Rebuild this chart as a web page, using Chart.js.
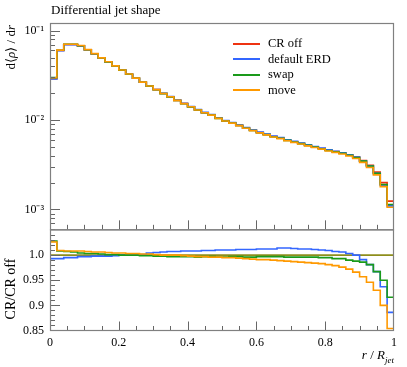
<!DOCTYPE html>
<html>
<head>
<meta charset="utf-8">
<script src="https://cdn.jsdelivr.net/npm/chart.js@4.4.1/dist/chart.umd.min.js"></script>
<style>
  html, body { margin: 0; padding: 0; background: #fff; }
  #wrap { position: relative; width: 407px; height: 367px; font-family: 'Liberation Serif', serif; color: #000; }
  #plot { position: absolute; left: 0; top: 0; }
  .lbl { position: absolute; white-space: nowrap; font-size: 13px; line-height: 15px; }
  .rot { transform-origin: 0 0; transform: rotate(-90deg); width: 150px; }
  #legend { position: absolute; left: 233px; top: 36px; font-size: 12.5px; }
  #legend .row { height: 15.5px; display: flex; align-items: center; }
  #legend .sw { width: 27px; height: 1.6px; margin-right: 8px; }
</style>
</head>
<body>
<div id="wrap">
  <canvas id="plot" width="407" height="367"></canvas>
  <div class="lbl" style="left:51px; top:2px;">Differential jet shape</div>
  <div class="lbl rot" style="left:3px; top:175px; text-align:right;">d⟨<i>ρ</i>⟩ / d<i>r</i></div>
  <div class="lbl rot" style="left:3px; top:364px; text-align:center; font-size:14px;">CR/CR off</div>
  <div class="lbl" style="right:13px; top:347px;"><i>r</i> / <i>R</i><sub style="font-size:9px"><i>jet</i></sub></div>
  <div id="legend"></div>
</div>
<script>
// bin edges in r/R_jet (50 bins)
const binEdges = [0, 0.02, 0.04, 0.06, 0.08, 0.1, 0.12, 0.14, 0.16, 0.18, 0.2,
  0.22, 0.24, 0.26, 0.28, 0.3, 0.32, 0.34, 0.36, 0.38, 0.4,
  0.42, 0.44, 0.46, 0.48, 0.5, 0.52, 0.54, 0.56, 0.58, 0.6,
  0.62, 0.64, 0.66, 0.68, 0.7, 0.72, 0.74, 0.76, 0.78, 0.8,
  0.82, 0.84, 0.86, 0.88, 0.9, 0.92, 0.94, 0.96, 0.98, 1];

// d<rho>/dr for CR off
const crOff = [0.029, 0.060, 0.070, 0.070, 0.0676, 0.061, 0.055, 0.0493, 0.0446, 0.0402,
  0.0362, 0.0326, 0.0294, 0.0265, 0.0240, 0.0219, 0.0198, 0.0182, 0.0166, 0.0153,
  0.0141, 0.0130, 0.0121, 0.0114, 0.0105, 0.0098, 0.0093, 0.00873, 0.00815, 0.00769,
  0.00725, 0.00689, 0.00654, 0.00627, 0.00595, 0.0057, 0.00547, 0.00523, 0.00501, 0.00481,
  0.0046, 0.00445, 0.00428, 0.00408, 0.00385, 0.00352, 0.00312, 0.00262, 0.0020, 0.00124];

// ratios to CR off
const ratioERD = [0.993, 0.993, 0.995, 0.995, 0.997, 0.997, 0.998, 0.998, 0.998, 0.999,
  1.0, 1.0, 1.0, 1.001, 1.004, 1.005, 1.006, 1.007, 1.007, 1.008,
  1.008, 1.008, 1.009, 1.009, 1.010, 1.010, 1.010, 1.011, 1.011, 1.011,
  1.012, 1.012, 1.012, 1.014, 1.014, 1.013, 1.012, 1.012, 1.011, 1.010,
  1.009, 1.007, 1.006, 1.003, 1.000, 0.991, 0.981, 0.967, 0.937, 0.886];
const ratioSwap = [1.028, 1.008, 1.007, 1.006, 1.004, 1.003, 1.003, 1.002, 1.001, 1.001,
  1.000, 1.000, 1.000, 0.999, 0.999, 0.998, 0.998, 0.997, 0.997, 0.997,
  0.997, 0.996, 0.997, 0.997, 0.996, 0.996, 0.997, 0.997, 0.996, 0.996,
  0.997, 0.997, 0.997, 0.997, 0.996, 0.996, 0.996, 0.996, 0.996, 0.995,
  0.995, 0.993, 0.993, 0.990, 0.988, 0.986, 0.981, 0.967, 0.950, 0.916];
const ratioMove = [1.026, 1.009, 1.008, 1.008, 1.008, 1.007, 1.006, 1.006, 1.005, 1.004,
  1.004, 1.003, 1.003, 1.002, 1.002, 1.001, 1.000, 1.000, 1.000, 0.999,
  0.998, 0.997, 0.997, 0.996, 0.996, 0.995, 0.995, 0.994, 0.993, 0.992,
  0.991, 0.991, 0.990, 0.989, 0.988, 0.987, 0.986, 0.985, 0.984, 0.983,
  0.981, 0.979, 0.976, 0.972, 0.966, 0.957, 0.946, 0.930, 0.900, 0.854];

const xTicks = [0, 0.2, 0.4, 0.6, 0.8, 1];
const xTickLabels = ['0', '0.2', '0.4', '0.6', '0.8', '1'];
const mainTicks = [0.001, 0.01, 0.1];
const mainTickLabels = ['10⁻³', '10⁻²', '10⁻¹'];
const ratioTicks = [0.85, 0.9, 0.95, 1.0];
const ratioTickLabels = ['0.85', '0.9', '0.95', '1.0'];

// main curves of the CR variants = CR off times the read ratio
const erd = crOff.map((v, i) => v * ratioERD[i]);
const swap = crOff.map((v, i) => v * ratioSwap[i]);
const move = crOff.map((v, i) => v * ratioMove[i]);
const one = crOff.map(() => 1);

function steps(vals) {
  return binEdges.map((x, i) => ({ x: x, y: vals[Math.min(i, vals.length - 1)] }));
}

const RED = '#ee3311', BLUE = '#3366ff', GREEN = '#1a9a1a', ORANGE = '#ff9900', OLIVE = '#8e8e1c';
const lineBase = { stepped: true, pointRadius: 0, borderWidth: 1.6, fill: false };
const fontTick = { family: 'Liberation Serif', size: 12 };

const frameTicks = {
  id: 'frameTicks',
  afterDatasetsDraw(chart) {
    const ctx = chart.ctx;
    const sx = chart.scales.x, ym = chart.scales.y, yr = chart.scales.yr;
    const L = sx.left, R = sx.right;
    ctx.save();
    ctx.strokeStyle = '#666';
    ctx.lineWidth = 1;
    const line = (x1, y1, x2, y2) => { ctx.beginPath(); ctx.moveTo(x1, y1); ctx.lineTo(x2, y2); ctx.stroke(); };
    // x ticks on the bottom of each panel
    [ym.bottom, yr.bottom].forEach(b => {
      for (let k = 1; k < 20; k++) {
        const px = Math.round(sx.getPixelForValue(k * 0.05)) + 0.5;
        line(px, b, px, b - (k % 4 === 0 ? 9 : 4.5));
      }
    });
    // log ticks
    for (let d = -4; d <= -1; d++) {
      for (let m = 1; m <= 9; m++) {
        const v = m * Math.pow(10, d);
        if (v < ym.min || v > ym.max) continue;
        const py = Math.round(ym.getPixelForValue(v)) + 0.5;
        line(L, py, L + (m === 1 ? 10 : 5), py);
      }
    }
    // ratio ticks
    for (let k = 86; k <= 104; k++) {
      const py = Math.round(yr.getPixelForValue(k / 100)) + 0.5;
      line(L, py, L + (k % 5 === 0 ? 10 : 5), py);
    }
    ctx.strokeStyle = '#808080';
    ctx.lineWidth = 1.2;
    ctx.strokeRect(L + 0.5, ym.top + 0.5, R - L - 1, ym.bottom - ym.top);
    ctx.strokeRect(L + 0.5, yr.top + 0.5, R - L - 1, yr.bottom - yr.top - 0.5);
    ctx.restore();
  }
};

const chart = new Chart(document.getElementById('plot').getContext('2d'), {
  type: 'line',
  data: {
    datasets: [
      { ...lineBase, label: 'move', data: steps(move), borderColor: ORANGE, yAxisID: 'y', order: 1 },
      { ...lineBase, label: 'swap', data: steps(swap), borderColor: GREEN, yAxisID: 'y', order: 2 },
      { ...lineBase, label: 'default ERD', data: steps(erd), borderColor: BLUE, yAxisID: 'y', order: 3 },
      { ...lineBase, label: 'CR off', data: steps(crOff), borderColor: RED, yAxisID: 'y', order: 4 },
      { ...lineBase, label: 'r_move', data: steps(ratioMove), borderColor: ORANGE, yAxisID: 'yr', order: 5 },
      { ...lineBase, label: 'r_swap', data: steps(ratioSwap), borderColor: GREEN, yAxisID: 'yr', order: 6 },
      { ...lineBase, label: 'r_erd', data: steps(ratioERD), borderColor: BLUE, yAxisID: 'yr', order: 7 },
      { ...lineBase, label: 'r_off', data: steps(one), borderColor: OLIVE, yAxisID: 'yr', order: 8 }
    ]
  },
  options: {
    responsive: false,
    devicePixelRatio: 1,
    animation: false,
    layout: { padding: { left: 0, right: 13, top: 23, bottom: 0 } },
    plugins: { legend: { display: false }, tooltip: { enabled: false } },
    scales: {
      x: {
        type: 'linear', position: 'bottom', min: 0, max: 1,
        grid: { display: false, drawTicks: false }, border: { display: false },
        afterBuildTicks: s => { s.ticks = xTicks.map(v => ({ value: v })); },
        ticks: { callback: (v, i) => xTickLabels[i], font: fontTick, color: '#000', padding: 5, maxRotation: 0, autoSkip: false },
        afterFit: s => { s.height = 36.5; }
      },
      y: {
        type: 'logarithmic', position: 'left', stack: 'panels', stackWeight: 206, weight: 1,
        min: 6.21e-4, max: 0.1218,
        grid: { display: false, drawTicks: false }, border: { display: false },
        afterBuildTicks: s => { s.ticks = mainTicks.map(v => ({ value: v })); },
        ticks: { callback: (v, i) => mainTickLabels[i], font: fontTick, color: '#000', padding: 6, autoSkip: false },
        afterFit: s => { s.width = 50; }
      },
      yr: {
        type: 'linear', position: 'left', stack: 'panels', stackWeight: 101,
        min: 0.85, max: 1.0512,
        grid: { display: false, drawTicks: false }, border: { display: false },
        afterBuildTicks: s => { s.ticks = ratioTicks.map(v => ({ value: v })); },
        ticks: { callback: (v, i) => ratioTickLabels[i], font: fontTick, color: '#000', padding: 6, autoSkip: false },
        afterFit: s => { s.width = 50; }
      }
    }
  },
  plugins: [frameTicks]
});

// legend in the upper panel
const legend = document.getElementById('legend');
['CR off', 'default ERD', 'swap', 'move'].forEach(name => {
  const ds = chart.data.datasets.find(d => d.label === name);
  const row = document.createElement('div');
  row.className = 'row';
  row.innerHTML = '<span class="sw" style="background:' + ds.borderColor + '"></span><span>' + name + '</span>';
  legend.appendChild(row);
});
</script>
</body>
</html>
